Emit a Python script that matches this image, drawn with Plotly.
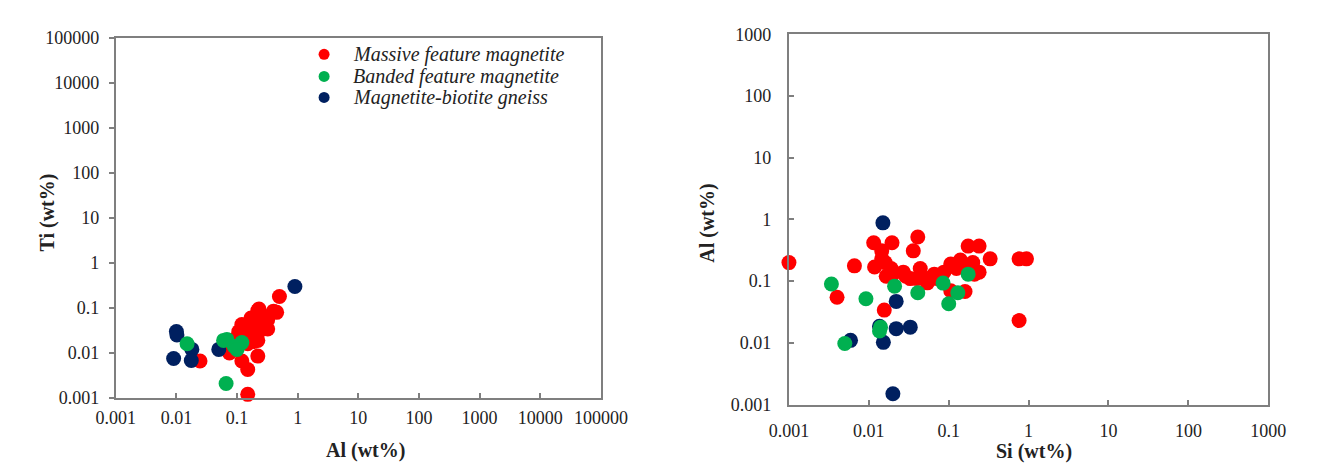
import plotly.graph_objects as go

# ---- Left panel: Al vs Ti (wt%) ----
massive_al = [0.5, 0.45, 0.4, 0.32, 0.22, 0.32, 0.17, 0.12, 0.107, 0.17, 0.22, 0.15, 0.075, 0.12,
              0.22, 0.15, 0.15, 0.0245, 0.23, 0.28, 0.078, 0.1, 0.13, 0.19, 0.23, 0.19, 0.26, 0.14]
massive_ti = [0.18, 0.08, 0.085, 0.055, 0.088, 0.034, 0.06, 0.043, 0.03, 0.026, 0.019, 0.016, 0.01, 0.0066,
              0.0085, 0.0043, 0.0012, 0.0066, 0.03, 0.05, 0.019, 0.022, 0.028, 0.036, 0.095, 0.018, 0.07, 0.04]
banded_al = [0.015, 0.068, 0.09, 0.12, 0.06, 0.1, 0.066]
banded_ti = [0.016, 0.02, 0.014, 0.017, 0.019, 0.012, 0.0021]
gneiss_al = [0.9, 0.01, 0.0102, 0.018, 0.009, 0.0176, 0.05]
gneiss_ti = [0.3, 0.03, 0.025, 0.012, 0.0075, 0.0068, 0.012]

# ---- Right panel: Si vs Al (wt%) ----
massive_si = [0.001, 0.004, 0.0066, 0.0115, 0.0195, 0.041, 0.036, 0.0118, 0.016, 0.019, 0.0156, 0.0145,
              0.029, 0.033, 0.044, 0.054, 0.066, 0.054, 0.106, 0.14, 0.175, 0.24, 0.2, 0.24, 0.33, 0.106,
              0.16, 0.087, 0.76, 0.94, 0.76, 0.027, 0.0145, 0.0165, 0.072, 0.125, 0.185, 0.21, 0.04, 0.02]
massive_al2 = [0.2, 0.055, 0.177, 0.42, 0.42, 0.52, 0.31, 0.17, 0.2, 0.16, 0.034, 0.31,
               0.12, 0.11, 0.16, 0.11, 0.13, 0.094, 0.19, 0.22, 0.37, 0.37, 0.2, 0.14, 0.23, 0.07,
               0.068, 0.14, 0.23, 0.23, 0.023, 0.14, 0.23, 0.12, 0.11, 0.16, 0.16, 0.13, 0.11, 0.13]
banded_si = [0.0034, 0.0092, 0.021, 0.041, 0.085, 0.175, 0.13, 0.10, 0.0136, 0.005, 0.014]
banded_al2 = [0.09, 0.052, 0.083, 0.065, 0.093, 0.13, 0.065, 0.043, 0.0156, 0.0098, 0.018]
gneiss_si = [0.015, 0.022, 0.0136, 0.022, 0.033, 0.0152, 0.0059, 0.02]
gneiss_al2 = [0.88, 0.047, 0.0186, 0.017, 0.018, 0.0102, 0.011, 0.0015]

names = ["Massive feature magnetite", "Banded feature magnetite", "Magnetite-biotite gneiss"]
colors = ["#FF0000", "#00B050", "#002060"]

left_ticks = [0.001, 0.01, 0.1, 1, 10, 100, 1000, 10000, 100000]
left_ticktext = ["0.001", "0.01", "0.1", "1", "10", "100", "1000", "10000", "100000"]
right_ticks = [0.001, 0.01, 0.1, 1, 10, 100, 1000]
right_ticktext = ["0.001", "0.01", "0.1", "1", "10", "100", "1000"]

W, H = 1322, 465
FONT = "Liberation Serif, Times New Roman, serif"
MS = 15

fig = go.Figure()

# draw order: red, blue, green (green on top)
left_sets = [(massive_al, massive_ti, 0), (gneiss_al, gneiss_ti, 2), (banded_al, banded_ti, 1)]
for xs, ys, ci in left_sets:
    fig.add_trace(go.Scatter(x=xs, y=ys, mode="markers", name=names[ci],
                             marker=dict(size=MS, color=colors[ci]), cliponaxis=False,
                             xaxis="x", yaxis="y", showlegend=False))
right_sets = [(massive_si, massive_al2, 0), (gneiss_si, gneiss_al2, 2), (banded_si, banded_al2, 1)]
for xs, ys, ci in right_sets:
    fig.add_trace(go.Scatter(x=xs, y=ys, mode="markers", name=names[ci],
                             marker=dict(size=MS, color=colors[ci]), cliponaxis=False,
                             xaxis="x2", yaxis="y2", showlegend=False))

axcol = "#7f7f7f"
tickfont = dict(family=FONT, size=18, color="#222")
common = dict(type="log", showgrid=False, zeroline=False, showline=True, mirror=True,
              linecolor=axcol, linewidth=2, tickcolor=axcol, tickwidth=2, ticklen=5,
              tickfont=tickfont, tickmode="array")

fig.update_layout(
    width=W, height=H, margin=dict(l=0, r=0, t=0, b=0),
    paper_bgcolor="white", plot_bgcolor="white",
    xaxis=dict(**common, range=[-3, 5], tickvals=left_ticks, ticktext=left_ticktext,
               domain=[91 / W, 594 / W], anchor="y", ticks="inside", ticklabelstandoff=2),
    yaxis=dict(**common, range=[-3, 5], tickvals=left_ticks, ticktext=left_ticktext,
               domain=[(H - 397) / H, (H - 21) / H], anchor="x", ticks="outside", ticklabelstandoff=6),
    xaxis2=dict(**common, range=[-3, 3], tickvals=right_ticks, ticktext=right_ticktext,
                domain=[789 / W, 1286 / W], anchor="y2", ticks="inside", ticklabelstandoff=9),
    yaxis2=dict(**common, range=[-3, 3], tickvals=right_ticks, ticktext=right_ticktext,
                domain=[(H - 404) / H, (H - 17) / H], anchor="x2", ticks="inside", ticklabelstandoff=12),
    showlegend=False,
)

# legend (Excel-style, tight spacing) for the left panel
leg_y = [38, 61, 83]
for ci, yy in enumerate(leg_y):
    fig.add_shape(type="circle", xref="paper", yref="paper", xsizemode="pixel", ysizemode="pixel",
                  xanchor=307 / W, yanchor=1 - yy / H, x0=-5.5, x1=5.5, y0=-5.5, y1=5.5,
                  fillcolor=colors[ci], line=dict(width=0))
    fig.add_annotation(text="<i>" + names[ci] + "</i>", x=335 / W, y=1 - yy / H,
                       xref="paper", yref="paper", showarrow=False, xanchor="left", yanchor="middle",
                       font=dict(family=FONT, size=20, color="#222"))

titlefont = dict(family=FONT, size=20, color="#222")
fig.add_annotation(text="<b>Al (wt%)</b>", x=350 / W, y=1 - 452 / H, xref="paper", yref="paper",
                   showarrow=False, font=titlefont, xanchor="center", yanchor="middle")
fig.add_annotation(text="<b>Ti (wt%)</b>", x=20 / W, y=1 - 203 / H, xref="paper", yref="paper",
                   showarrow=False, font=titlefont, textangle=-90, xanchor="center", yanchor="middle")
fig.add_annotation(text="<b>Si (wt%)</b>", x=1043 / W, y=1 - 453 / H, xref="paper", yref="paper",
                   showarrow=False, font=titlefont, xanchor="center", yanchor="middle")
fig.add_annotation(text="<b>Al (wt%)</b>", x=705 / W, y=1 - 214 / H, xref="paper", yref="paper",
                   showarrow=False, font=titlefont, textangle=-90, xanchor="center", yanchor="middle")

fig.write_html("out.html")
